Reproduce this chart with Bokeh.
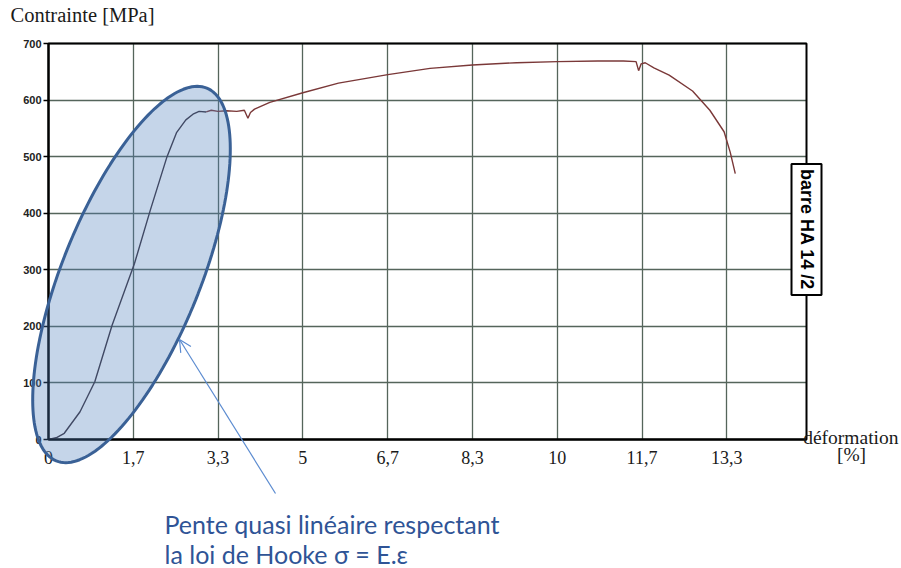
import numpy as np
from bokeh.plotting import figure
from bokeh.models import (FixedTicker, Label, PolyAnnotation, Arrow, OpenHead, Range1d,
                          BoxAnnotation)
from bokeh.embed import file_html
from bokeh.resources import INLINE

# ---- data ----
strain_pct = [0.0, 0.15, 0.31, 0.62, 0.91, 1.25, 1.69, 2.0, 2.33, 2.52, 2.7, 2.84, 2.96,
              3.1, 3.2, 3.33, 3.5, 3.7, 3.85, 3.92, 3.97, 4.05, 4.35, 5.0, 5.7, 6.67,
              7.5, 8.33, 9.2, 10.0, 10.8, 11.3, 11.55, 11.6, 11.65, 11.73, 11.9, 12.2,
              12.66, 13.0, 13.28, 13.4, 13.5]
stress_mpa = [0, 3, 11, 49, 102, 202, 311, 405, 500, 543, 565, 575, 580,
              579, 582, 580, 581, 580, 582, 568, 578, 584, 596, 613, 630, 645,
              656, 662, 666, 668, 669, 669, 668, 652, 664, 666, 657, 644,
              616, 582, 544, 508, 470]
elastic_end = 13  # index where the trace colour changes

x_ticks = [0, 5 / 3, 10 / 3, 5, 20 / 3, 25 / 3, 10, 35 / 3, 40 / 3]
x_tick_labels = ["0", "1,7", "3,3", "5", "6,7", "8,3", "10", "11,7", "13,3"]
y_ticks = [0, 100, 200, 300, 400, 500, 600, 700]

# ---- layout: the frame fills the whole canvas; the chart box sits inside it ----
W, H = 901, 568
BL, BR, BT, BB = 48, 806, 43, 439   # chart box edges in canvas pixels
XMAX, YMAX = 14.9, 700
SX = XMAX / (BR - BL)
SY = YMAX / (BB - BT)
TXT_SHIFT = 8  # labels render this many px below the requested baseline


def fx(px):
    """canvas pixel x -> data x"""
    return (px - BL) * SX


def fy(py):
    """canvas pixel y -> data y"""
    return (BB - py) * SY


def fyt(py):
    """baseline position for a text label"""
    return fy(py - TXT_SHIFT)


p = figure(width=W, height=H,
           x_range=Range1d(fx(0), fx(W)), y_range=Range1d(fy(H), fy(0)),
           output_backend="svg", toolbar_location=None,
           min_border_left=0, min_border_right=0, min_border_top=0, min_border_bottom=0)
p.title.visible = False
p.background_fill_color = "white"
p.border_fill_color = "white"
p.outline_line_color = None

# grid (limited to the chart box)
p.xgrid.ticker = FixedTicker(ticks=x_ticks)
p.ygrid.ticker = FixedTicker(ticks=y_ticks)
p.xgrid.bounds = (0, XMAX)
p.ygrid.bounds = (0, YMAX)
p.xgrid.cross_bounds = (0, YMAX)
p.ygrid.cross_bounds = (0, XMAX)
for g in (p.xgrid, p.ygrid):
    g.grid_line_color = "#55655b"
    g.grid_line_width = 1.3

# x axis
xa = p.xaxis[0]
xa.fixed_location = 0
xa.bounds = (0, XMAX)
xa.ticker = FixedTicker(ticks=x_ticks)
xa.major_label_overrides = {t: s for t, s in zip(x_ticks, x_tick_labels)}
xa.major_tick_out = 0
xa.major_tick_in = 0
xa.minor_tick_out = 0
xa.minor_tick_in = 0
xa.axis_line_color = "black"
xa.axis_line_width = 2
xa.major_label_standoff = 11
xa.major_label_text_font = "Liberation Serif"
xa.major_label_text_font_size = "18px"
xa.major_label_text_color = "#1a1a1a"

# y axis
ya = p.yaxis[0]
ya.fixed_location = 0
ya.bounds = (0, YMAX)
ya.ticker = FixedTicker(ticks=y_ticks)
ya.major_tick_out = 5
ya.major_tick_in = 0
ya.minor_tick_out = 0
ya.minor_tick_in = 0
ya.major_tick_line_color = "black"
ya.major_tick_line_width = 1.5
ya.axis_line_color = "black"
ya.axis_line_width = 2
ya.major_label_standoff = 2
ya.major_label_text_font = "Liberation Sans"
ya.major_label_text_font_style = "bold"
ya.major_label_text_font_size = "11px"
ya.major_label_text_color = "#222222"

# chart box border
p.add_layout(BoxAnnotation(left=0, right=XMAX, bottom=0, top=YMAX,
                           fill_alpha=0, line_color="black", line_alpha=1,
                           line_width=2, level="underlay"))

# curve
p.line(strain_pct[:elastic_end + 1], stress_mpa[:elastic_end + 1],
       line_color="#3a2f3a", line_width=1.4)
p.line(strain_pct[elastic_end:], stress_mpa[elastic_end:],
       line_color="#7a3838", line_width=1.4)

# highlighted ellipse (shape defined in screen pixels, mapped to data)
cx, cy, a_ax, b_ax, theta = 131, 274, 201, 69, np.deg2rad(68)
t = np.linspace(0, 2 * np.pi, 181)
ex = cx + a_ax * np.cos(t) * np.cos(theta) - b_ax * np.sin(t) * np.sin(theta)
ey = cy - (a_ax * np.cos(t) * np.sin(theta) + b_ax * np.sin(t) * np.cos(theta))
p.add_layout(PolyAnnotation(xs=[fx(v) for v in ex], ys=[fy(v) for v in ey],
                            fill_color="#4f81bd", fill_alpha=0.33,
                            line_color="#3a6196", line_alpha=1, line_width=3))

# arrow
p.add_layout(Arrow(x_start=fx(275), y_start=fy(493), x_end=fx(179), y_end=fy(339),
                   line_color="#5b8bd0", line_width=1.2,
                   end=OpenHead(size=12, line_color="#5b8bd0", line_width=1.2)))

# texts
p.add_layout(Label(x=fx(10), y=fyt(22), text="Contrainte [MPa]", text_align="left",
                   text_baseline="alphabetic", text_font="Liberation Serif",
                   text_font_size="20.5px", text_color="#1a1a1a"))
p.add_layout(Label(x=fx(898), y=fyt(445), text="déformation", text_align="right",
                   text_baseline="alphabetic", text_font="Liberation Serif",
                   text_font_size="19.5px", text_color="#1a1a1a"))
p.add_layout(Label(x=fx(851), y=fyt(462), text="[%]", text_align="center",
                   text_baseline="alphabetic", text_font="Liberation Serif",
                   text_font_size="19.5px", text_color="#1a1a1a"))
p.add_layout(Label(x=fx(164), y=fyt(531), text="Pente quasi linéaire respectant",
                   text_align="left", text_baseline="alphabetic", text_font="Lato",
                   text_font_size="25px", text_color="#2f5496"))
p.add_layout(Label(x=fx(164), y=fyt(561), text="la loi de Hooke σ = E.ε",
                   text_align="left", text_baseline="alphabetic", text_font="Lato",
                   text_font_size="25px", text_color="#2f5496"))
p.add_layout(Label(x=fx(806), y=fy(229), text="barre HA 14 /2", angle=-np.pi / 2,
                   text_align="center", text_baseline="middle",
                   text_font="Liberation Sans", text_font_style="bold",
                   text_font_size="18px", text_color="black",
                   background_fill_color="white", border_line_color="black",
                   border_line_width=2, padding=5))

open("out.html", "w").write(file_html(p, INLINE))
